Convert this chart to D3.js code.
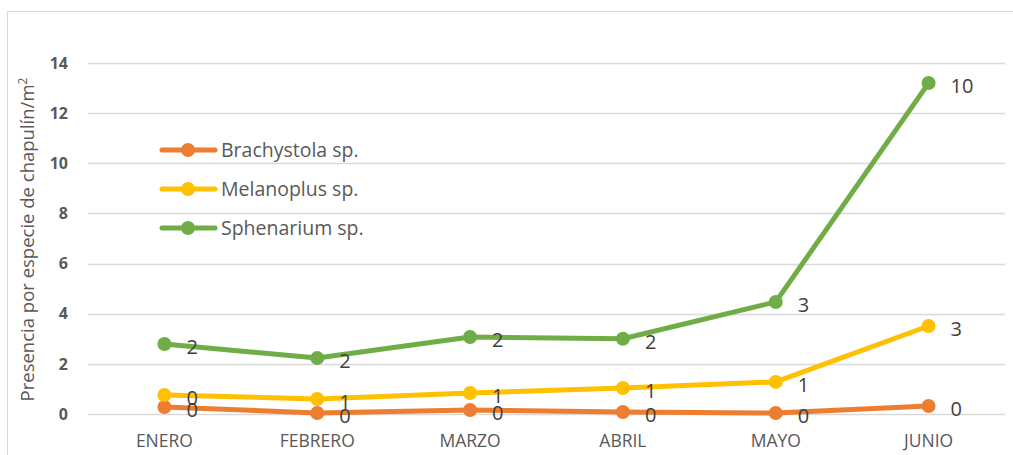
<!DOCTYPE html>
<html>
<head>
<meta charset="utf-8">
<script src="https://cdn.jsdelivr.net/npm/d3@7"></script>
<style>
  body { margin: 0; background: #fff; }
  svg { display: block; font-family: "Open Sans", sans-serif; }
</style>
</head>
<body>
<div id="chart"></div>
<script>
// Data
const months = ["ENERO", "FEBRERO", "MARZO", "ABRIL", "MAYO", "JUNIO"];
const seriesNames = ["Brachystola sp.", "Melanoplus sp.", "Sphenarium sp."];
const brachystola = [0.28, 0.04, 0.16, 0.08, 0.04, 0.32];
const melanoplus  = [0.76, 0.6, 0.84, 1.04, 1.28, 3.51];
const sphenarium  = [2.79, 2.23, 3.07, 3.0, 4.47, 13.2];
// data labels as printed in the chart
const brachystolaLabels = ["0", "0", "0", "0", "0", "0"];
const melanoplusLabels  = ["0", "1", "1", "1", "1", "3"];
const sphenariumLabels  = ["2", "2", "2", "2", "3", "10"];
const yTicks = [0, 2, 4, 6, 8, 10, 12, 14];
const colors = ["#ED7D31", "#FFC000", "#70AD47"];

const width = 1013, height = 455;
const margin = {top: 63, right: 8, bottom: 41, left: 88};

const svg = d3.select("#chart").append("svg")
  .attr("width", width)
  .attr("height", height);

// outer frame
svg.append("rect")
  .attr("x", 7.5).attr("y", 11.5)
  .attr("width", 1010).attr("height", 450)
  .attr("fill", "none")
  .attr("stroke", "#D9D9D9");

const x = d3.scaleBand()
  .domain(months)
  .range([margin.left, width - margin.right]);

const y = d3.scaleLinear()
  .domain([0, 14])
  .range([height - margin.bottom, margin.top]);

// gridlines
svg.append("g")
  .selectAll("line")
  .data(yTicks)
  .join("line")
    .attr("x1", margin.left)
    .attr("x2", width - margin.right)
    .attr("y1", d => Math.round(y(d)) + 0.5)
    .attr("y2", d => Math.round(y(d)) + 0.5)
    .attr("stroke", "#D9D9D9")
    .attr("stroke-width", 1.3);

// y tick labels
svg.append("g")
  .selectAll("text")
  .data(yTicks)
  .join("text")
    .attr("x", 68)
    .attr("y", d => y(d))
    .attr("dy", "0.36em")
    .attr("text-anchor", "end")
    .attr("fill", "#595959")
    .attr("font-size", 16)
    .attr("font-weight", "bold")
    .text(d => d);

// x tick labels
svg.append("g")
  .selectAll("text")
  .data(months)
  .join("text")
    .attr("x", d => x(d) + x.bandwidth() / 2)
    .attr("y", 447)
    .attr("text-anchor", "middle")
    .attr("fill", "#595959")
    .attr("font-size", 17.5)
    .text(d => d);

// y axis title
svg.append("text")
  .attr("transform", "translate(34," + (y(7) + 1) + ") rotate(-90)")
  .attr("text-anchor", "middle")
  .attr("fill", "#595959")
  .attr("font-size", 18.5)
  .text("Presencia por especie de chapulín/m")
  .append("tspan")
    .attr("font-size", 12)
    .attr("dy", -7)
    .text("2");

const allSeries = [
  {name: seriesNames[0], values: brachystola, labels: brachystolaLabels, color: colors[0]},
  {name: seriesNames[1], values: melanoplus,  labels: melanoplusLabels,  color: colors[1]},
  {name: seriesNames[2], values: sphenarium,  labels: sphenariumLabels,  color: colors[2]}
];

const line = d3.line()
  .x((d, i) => x(months[i]) + x.bandwidth() / 2)
  .y(d => y(d));

allSeries.forEach(function(s) {
  const g = svg.append("g");
  g.append("path")
    .attr("d", line(s.values))
    .attr("fill", "none")
    .attr("stroke", s.color)
    .attr("stroke-width", 5)
    .attr("stroke-linejoin", "round")
    .attr("stroke-linecap", "round");
  g.selectAll("circle")
    .data(s.values)
    .join("circle")
      .attr("cx", (d, i) => x(months[i]) + x.bandwidth() / 2)
      .attr("cy", d => y(d))
      .attr("r", 7)
      .attr("fill", s.color);
});

// data labels on top
allSeries.forEach(function(s) {
  svg.append("g")
    .selectAll("text")
    .data(s.values)
    .join("text")
      .attr("x", (d, i) => x(months[i]) + x.bandwidth() / 2 + 22)
      .attr("y", d => y(d) + 3)
      .attr("dy", "0.36em")
      .attr("fill", "#404040")
      .attr("font-size", 20)
      .text((d, i) => s.labels[i]);
});

// legend
const legend = svg.append("g")
  .selectAll("g")
  .data(allSeries)
  .join("g")
    .attr("transform", (d, i) => "translate(160," + (150 + i * 39) + ")");

legend.append("line")
  .attr("x1", 2).attr("x2", 55)
  .attr("stroke", d => d.color)
  .attr("stroke-width", 5)
  .attr("stroke-linecap", "round");
legend.append("circle")
  .attr("cx", 28).attr("r", 7)
  .attr("fill", d => d.color);
legend.append("text")
  .attr("x", 61)
  .attr("dy", "0.36em")
  .attr("fill", "#595959")
  .attr("font-size", 19.5)
  .text(d => d.name);
</script>
</body>
</html>
